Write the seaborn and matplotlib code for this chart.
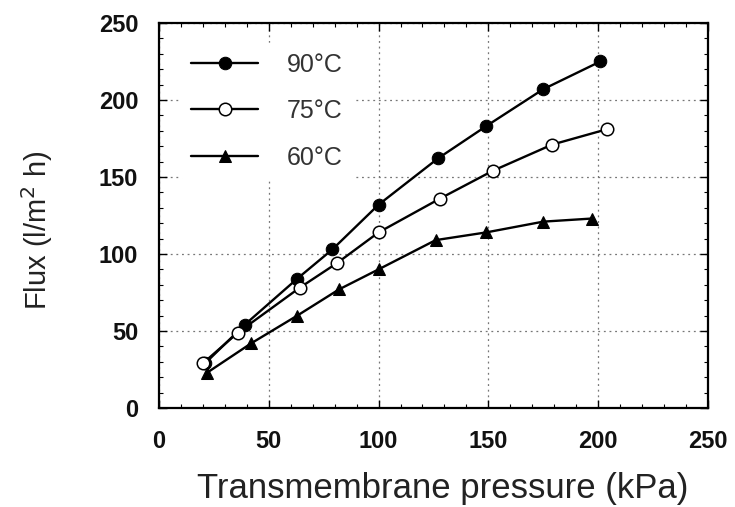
import matplotlib
matplotlib.use("Agg")
import matplotlib.pyplot as plt
import seaborn as sns
import pandas as pd
from matplotlib.ticker import MultipleLocator

# Data
x90 = [21, 39, 63, 79, 100, 127, 149, 175, 201]
y90 = [29, 54, 84, 103, 132, 162, 183, 207, 225]
x75 = [20, 36, 64, 81, 100, 128, 152, 179, 204]
y75 = [29, 49, 78, 94, 114, 136, 154, 171, 181]
x60 = [22, 42, 63, 82, 100, 126, 149, 175, 197]
y60 = [23, 42, 60, 77, 90, 109, 114, 121, 123]
labels = ["90°C", "75°C", "60°C"]
xticks = [0, 50, 100, 150, 200, 250]
yticks = [0, 50, 100, 150, 200, 250]

sns.set_style("ticks")
plt.rcParams['font.family'] = ['Liberation Sans', 'DejaVu Sans']

fig = plt.figure(figsize=(7.35, 5.07), dpi=100)
ax = fig.add_axes([0.2163, 0.1953, 0.7469, 0.7594])

series = [
    (x90, y90, labels[0], dict(marker="o", markersize=9, markerfacecolor="black", markeredgecolor="black")),
    (x75, y75, labels[1], dict(marker="o", markersize=9, markerfacecolor="white", markeredgecolor="black", markeredgewidth=1.1)),
    (x60, y60, labels[2], dict(marker="^", markersize=9, markerfacecolor="black", markeredgecolor="black")),
]
for xs, ys, lab, st in series:
    df = pd.DataFrame({"x": xs, "y": ys})
    sns.lineplot(data=df, x="x", y="y", ax=ax, color="black", linewidth=1.7,
                 label=lab, sort=False, **st)

ax.set_xlim(0, 250)
ax.set_ylim(0, 250)
ax.set_xticks(xticks)
ax.set_yticks(yticks)
ax.xaxis.set_minor_locator(MultipleLocator(10))
ax.yaxis.set_minor_locator(MultipleLocator(10))
ax.tick_params(which="both", direction="in", top=True, right=True, color="black")
ax.tick_params(which="major", length=6, width=1.0, labelsize=17)
ax.tick_params(axis="x", which="major", pad=16)
ax.tick_params(axis="y", which="major", pad=15)
ax.tick_params(which="minor", length=3, width=0.8)
for lbl in ax.get_xticklabels() + ax.get_yticklabels():
    lbl.set_fontweight("bold")
    lbl.set_color("#111111")
for sp in ax.spines.values():
    sp.set_linewidth(1.6)
    sp.set_color("black")

ax.grid(True, which="major", linestyle=(0, (1.5, 3)), color="#777777", linewidth=0.9)
ax.set_axisbelow(True)

ax.set_xlabel("Transmembrane pressure (kPa)", fontsize=25, color="#222222")
ax.set_ylabel("Flux (l/m$^2$ h)", fontsize=21, color="#222222")
ax.xaxis.set_label_coords(0.517, -0.166)
ax.yaxis.set_label_coords(-0.19, 0.462)

leg = ax.legend(loc="upper left", bbox_to_anchor=(0.040, 0.949), frameon=True,
                fontsize=18, handlelength=2.7, labelspacing=0.9, handletextpad=1.15,
                borderpad=0.4, borderaxespad=0.0)
leg.get_frame().set_facecolor("white")
leg.get_frame().set_edgecolor("white")
leg.get_frame().set_alpha(1.0)
for t in leg.get_texts():
    t.set_color("#333333")

fig.savefig("out.png", dpi=100)
